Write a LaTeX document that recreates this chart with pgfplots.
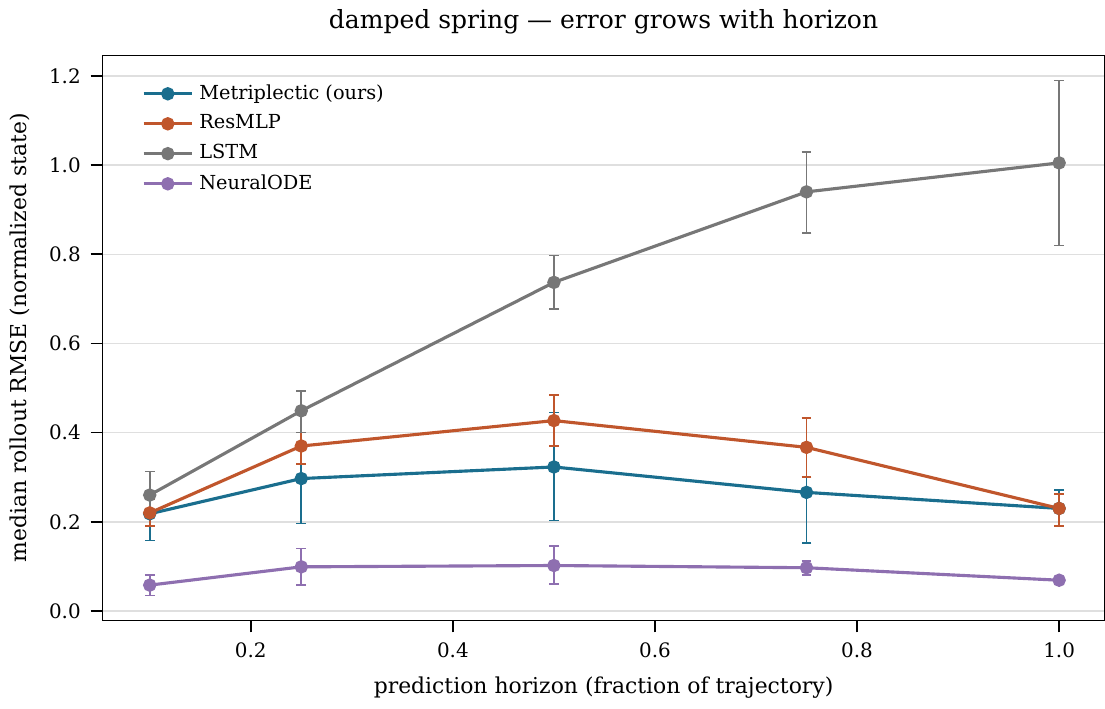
\documentclass[border=0pt]{standalone}
\usepackage{pgfplots}
\pgfplotsset{compat=1.18}
\usepackage{fontspec}
\setmainfont{DejaVu Serif}
\definecolor{cb}{HTML}{1A6E8E}
\definecolor{co}{HTML}{C0562C}
\definecolor{cg}{HTML}{777777}
\definecolor{cp}{HTML}{8E6FB0}
\begin{document}
\begin{tikzpicture}
\begin{axis}[
  scale only axis, width=351bp, height=198bp,
  xmin=0.0536, xmax=1.0447, ymin=-0.021, ymax=1.246,
  xtick={0.2,0.4,0.6,0.8,1.0}, ytick={0,0.2,...,1.2},
  /pgf/number format/.cd, fixed, fixed zerofill, precision=1, assume math mode=true,
  /pgfplots/.cd,
  ymajorgrids, grid style={gray!25, line width=0.5pt},
  tick align=outside, tick style={black, line width=0.6pt},
  xtick pos=bottom, ytick pos=left,
  ticklabel style={font=\fontsize{7}{8}\selectfont},
  xlabel={prediction horizon (fraction of trajectory)},
  ylabel={median rollout RMSE (normalized state)},
  label style={font=\fontsize{7.7}{9}\selectfont},
  title={damped spring — error grows with horizon},
  title style={font=\fontsize{8.8}{10}\selectfont, yshift=-2pt},
  legend pos=north west, legend cell align=left,
  legend style={draw=none, fill=none, font=\fontsize{6.8}{8}\selectfont},
  every axis plot/.append style={line width=1.1pt, mark=*, mark size=1.8pt,
    error bars/y dir=both, error bars/y explicit,
    error bars/error bar style={line width=0.6pt},
    error bars/error mark options={rotate=90, mark size=1.7pt, line width=0.6pt}},
]
\addplot[color=cb] coordinates {(0.1,0.218)+=(0,0.047)-=(0,0.06) (0.25,0.297)+=(0,0.103)-=(0,0.101) (0.5,0.323)+=(0,0.122)-=(0,0.12) (0.75,0.266)+=(0,0.034)-=(0,0.113) (1,0.23)+=(0,0.042)-=(0,0.04)};
\addlegendentry{Metriplectic (ours)}
\addplot[color=co] coordinates {(0.1,0.22)+=(0,0.03)-=(0,0.03) (0.25,0.37)+=(0,0.03)-=(0,0.04) (0.5,0.427)+=(0,0.058)-=(0,0.057) (0.75,0.367)+=(0,0.066)-=(0,0.067) (1,0.23)+=(0,0.032)-=(0,0.04)};
\addlegendentry{ResMLP}
\addplot[color=cg] coordinates {(0.1,0.26)+=(0,0.053)-=(0,0.05) (0.25,0.449)+=(0,0.044)-=(0,0.049) (0.5,0.737)+=(0,0.06)-=(0,0.059) (0.75,0.94)+=(0,0.09)-=(0,0.092) (1,1.005)+=(0,0.185)-=(0,0.185)};
\addlegendentry{LSTM}
\addplot[color=cp] coordinates {(0.1,0.058)+=(0,0.022)-=(0,0.023) (0.25,0.099)+=(0,0.041)-=(0,0.041) (0.5,0.102)+=(0,0.043)-=(0,0.042) (0.75,0.097)+=(0,0.015)-=(0,0.017) (1,0.069)+=(0,0.007)-=(0,0.007)};
\addlegendentry{NeuralODE}
\end{axis}
\end{tikzpicture}
\end{document}
